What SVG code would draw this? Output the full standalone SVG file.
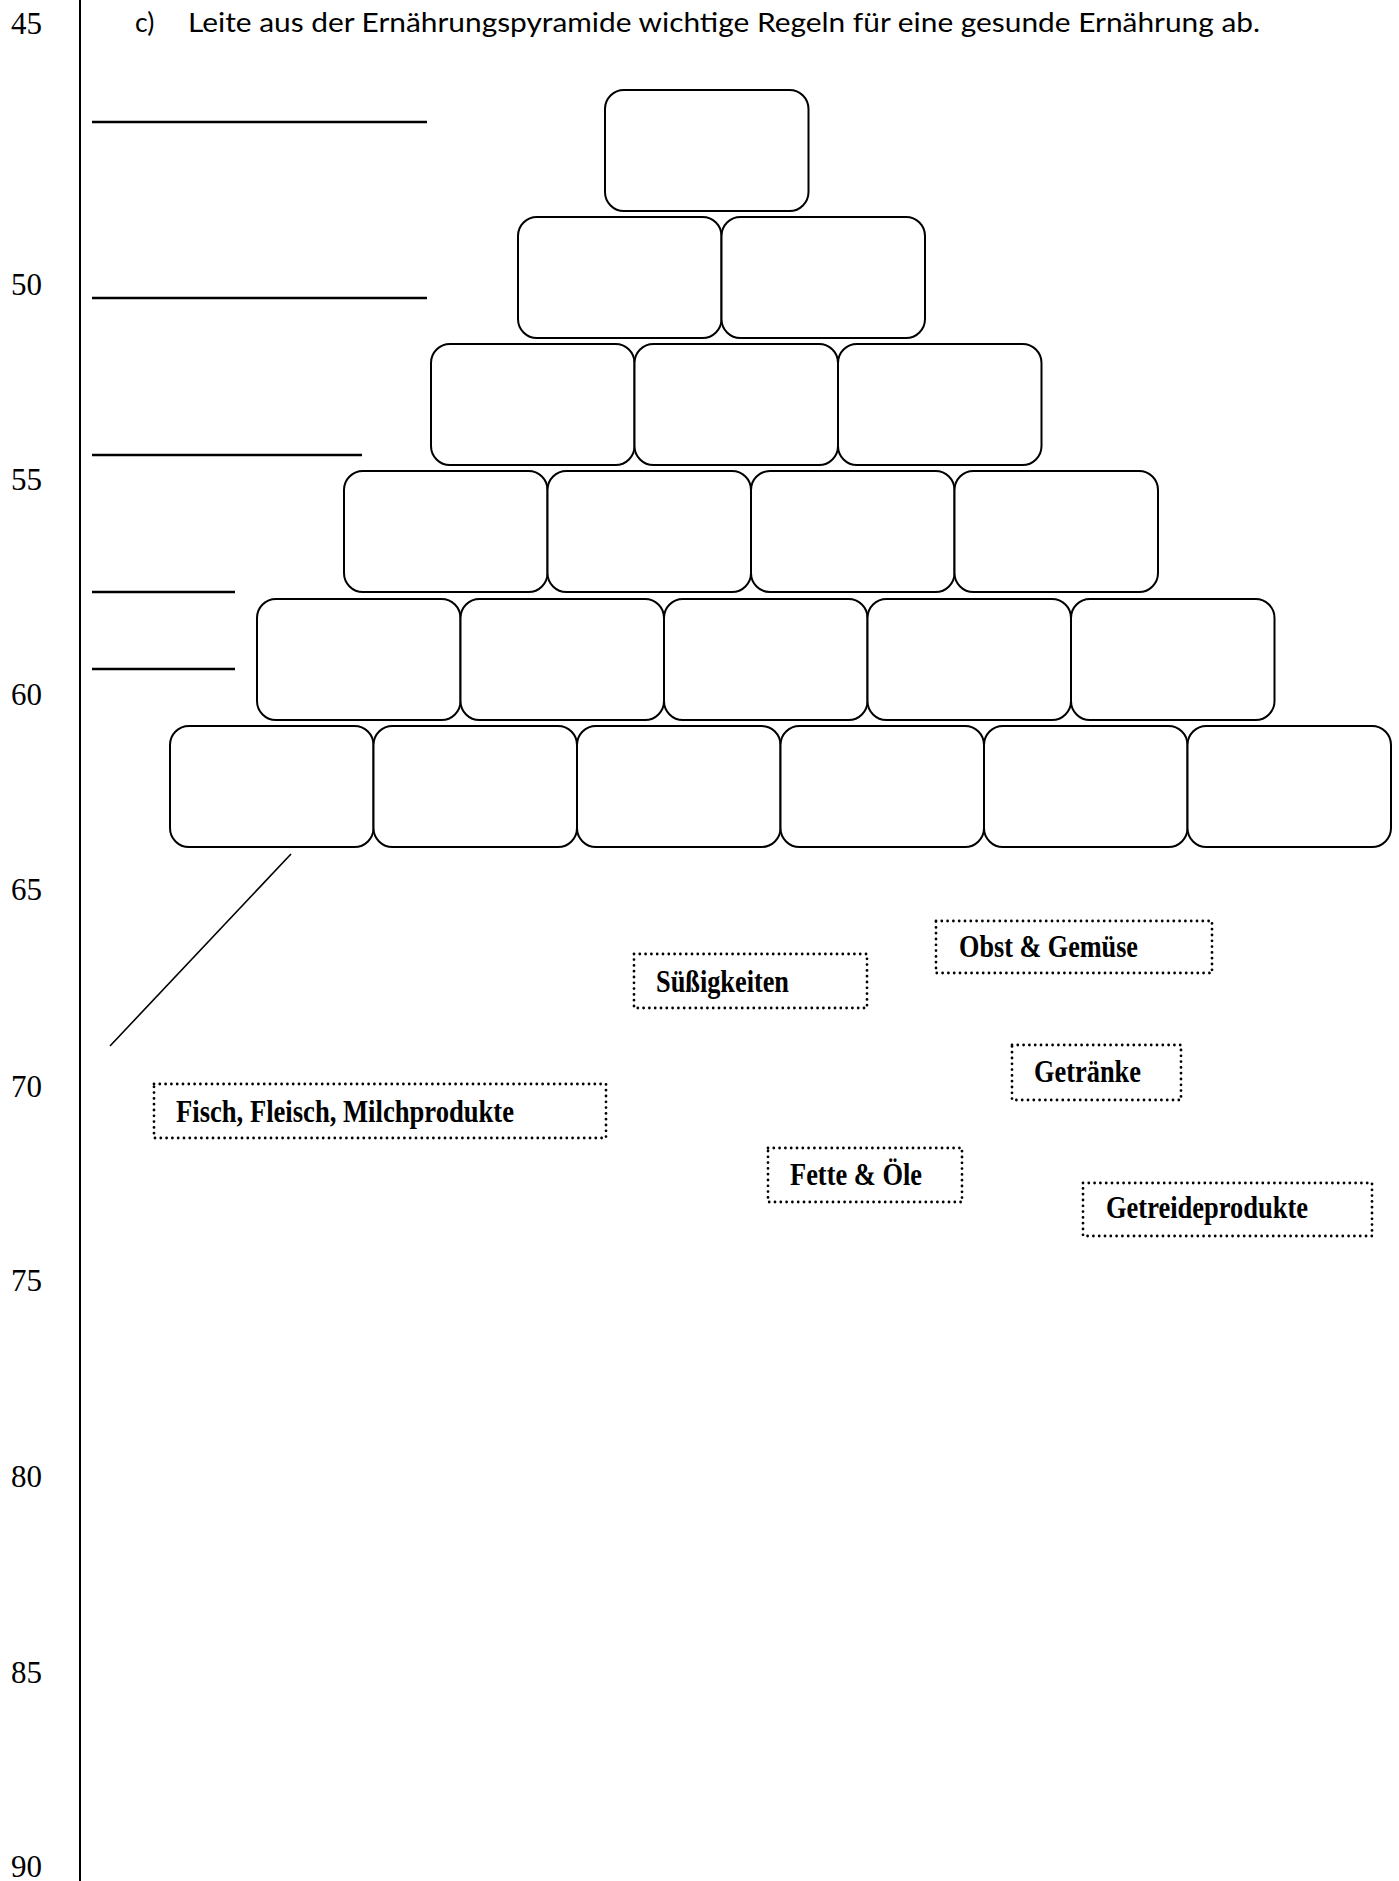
<svg xmlns="http://www.w3.org/2000/svg" width="1399" height="1881" viewBox="0 0 1399 1881">
<style>
.num{font-family:"Liberation Serif","Times New Roman",serif;font-size:31px;fill:#000}
.head{font-family:Lato,"Liberation Sans",sans-serif;font-size:26.5px;fill:#000}
.box{fill:#fff;stroke:#000;stroke-width:2}
.blank{stroke:#000;stroke-width:2.5}
.dot{fill:none;stroke:#000;stroke-width:2.8;stroke-linecap:round;stroke-dasharray:0 5.8}
.lbl{font-family:"Liberation Serif","Times New Roman",serif;font-weight:bold;font-size:31px;fill:#000}
</style>
<rect width="1399" height="1881" fill="#fff"/>
<g id="margin">
<line x1="80" y1="0" x2="80" y2="1881" stroke="#000" stroke-width="2"/>
<text class="num" x="11" y="34">45</text>
<text class="num" x="11" y="295">50</text>
<text class="num" x="11" y="490">55</text>
<text class="num" x="11" y="705">60</text>
<text class="num" x="11" y="900">65</text>
<text class="num" x="11" y="1097">70</text>
<text class="num" x="11" y="1291">75</text>
<text class="num" x="11" y="1487">80</text>
<text class="num" x="11" y="1683">85</text>
<text class="num" x="11" y="1877">90</text>
</g>
<g id="heading">
<text class="head" x="135" y="32">c)</text>
<text class="head" x="188" y="32" textLength="1072" lengthAdjust="spacingAndGlyphs">Leite aus der Ernährungspyramide wichtige Regeln für eine gesunde Ernährung ab.</text>
</g>
<g id="blanks">
<line class="blank" x1="92" y1="122" x2="427" y2="122"/>
<line class="blank" x1="92" y1="298" x2="427" y2="298"/>
<line class="blank" x1="92" y1="455" x2="362" y2="455"/>
<line class="blank" x1="92" y1="592" x2="235" y2="592"/>
<line class="blank" x1="92" y1="669" x2="235" y2="669"/>
</g>
<g id="pyramid">
<g id="row1"><rect id="b1-1" class="box" x="605" y="90" width="203.5" height="121" rx="19"/></g>
<g id="row2">
<rect id="b2-1" class="box" x="518" y="217" width="203.5" height="121" rx="19"/>
<rect id="b2-2" class="box" x="721.5" y="217" width="203.5" height="121" rx="19"/>
</g>
<g id="row3">
<rect id="b3-1" class="box" x="431" y="344" width="203.5" height="121" rx="19"/>
<rect id="b3-2" class="box" x="634.5" y="344" width="203.5" height="121" rx="19"/>
<rect id="b3-3" class="box" x="838" y="344" width="203.5" height="121" rx="19"/>
</g>
<g id="row4">
<rect id="b4-1" class="box" x="344" y="471" width="203.5" height="121" rx="19"/>
<rect id="b4-2" class="box" x="547.5" y="471" width="203.5" height="121" rx="19"/>
<rect id="b4-3" class="box" x="751" y="471" width="203.5" height="121" rx="19"/>
<rect id="b4-4" class="box" x="954.5" y="471" width="203.5" height="121" rx="19"/>
</g>
<g id="row5">
<rect id="b5-1" class="box" x="257" y="599" width="203.5" height="121" rx="19"/>
<rect id="b5-2" class="box" x="460.5" y="599" width="203.5" height="121" rx="19"/>
<rect id="b5-3" class="box" x="664" y="599" width="203.5" height="121" rx="19"/>
<rect id="b5-4" class="box" x="867.5" y="599" width="203.5" height="121" rx="19"/>
<rect id="b5-5" class="box" x="1071" y="599" width="203.5" height="121" rx="19"/>
</g>
<g id="row6">
<rect id="b6-1" class="box" x="170" y="726" width="203.5" height="121" rx="19"/>
<rect id="b6-2" class="box" x="373.5" y="726" width="203.5" height="121" rx="19"/>
<rect id="b6-3" class="box" x="577" y="726" width="203.5" height="121" rx="19"/>
<rect id="b6-4" class="box" x="780.5" y="726" width="203.5" height="121" rx="19"/>
<rect id="b6-5" class="box" x="984" y="726" width="203.5" height="121" rx="19"/>
<rect id="b6-6" class="box" x="1187.5" y="726" width="203.5" height="121" rx="19"/>
</g>
</g>
<g id="connectors">
<line x1="291" y1="854" x2="110" y2="1046" stroke="#000" stroke-width="1.6"/>
</g>
<g id="labels">
<g id="lbl-fisch"><rect class="dot" x="154" y="1084" width="452" height="54"/><text class="lbl" x="176" y="1122" textLength="338" lengthAdjust="spacingAndGlyphs">Fisch, Fleisch, Milchprodukte</text></g>
<g id="lbl-suess"><rect class="dot" x="634" y="954" width="233" height="54"/><text class="lbl" x="656" y="992" textLength="133" lengthAdjust="spacingAndGlyphs">Süßigkeiten</text></g>
<g id="lbl-obst"><rect class="dot" x="936" y="921" width="276" height="52"/><text class="lbl" x="959" y="957" textLength="179" lengthAdjust="spacingAndGlyphs">Obst &amp; Gemüse</text></g>
<g id="lbl-getraenke"><rect class="dot" x="1012" y="1045" width="169" height="55"/><text class="lbl" x="1034" y="1082" textLength="107" lengthAdjust="spacingAndGlyphs">Getränke</text></g>
<g id="lbl-fette"><rect class="dot" x="768" y="1148" width="194" height="54"/><text class="lbl" x="790" y="1185" textLength="132" lengthAdjust="spacingAndGlyphs">Fette &amp; Öle</text></g>
<g id="lbl-getreide"><rect class="dot" x="1083" y="1183" width="289" height="53"/><text class="lbl" x="1106" y="1218" textLength="202" lengthAdjust="spacingAndGlyphs">Getreideprodukte</text></g>
</g>
</svg>
